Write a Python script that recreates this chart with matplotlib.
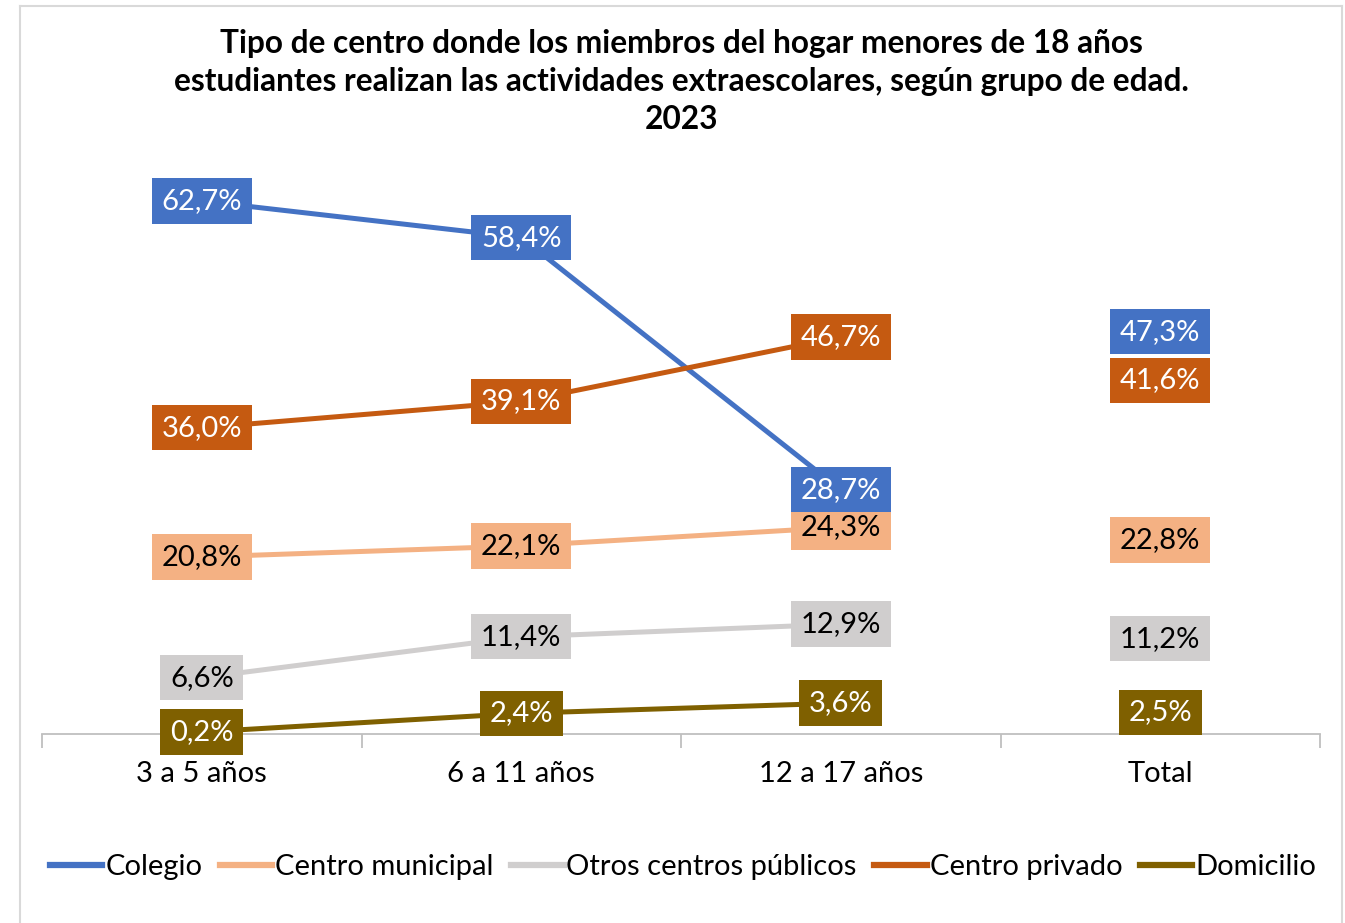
import matplotlib
matplotlib.use("Agg")
import matplotlib.pyplot as plt
from matplotlib.lines import Line2D

plt.rcParams['font.family'] = ['Lato', 'DejaVu Sans']

categories = ["3 a 5 años", "6 a 11 años", "12 a 17 años", "Total"]
series_names = ["Colegio", "Centro municipal", "Otros centros públicos", "Centro privado", "Domicilio"]
colegio = [62.7, 58.4, 28.7, 47.3]
centro_municipal = [20.8, 22.1, 24.3, 22.8]
otros_publicos = [6.6, 11.4, 12.9, 11.2]
centro_privado = [36.0, 39.1, 46.7, 41.6]
domicilio = [0.2, 2.4, 3.6, 2.5]

colors = ["#4472C4", "#F4B183", "#D0CECE", "#C55A11", "#7F6000"]
text_colors = ["white", "black", "black", "white", "white"]
values = [colegio, centro_municipal, otros_publicos, centro_privado, domicilio]

fig = plt.figure(figsize=(13.45, 9.23), dpi=100)
ax = fig.add_axes([42 / 1345, (923 - 733.7) / 923, 1278 / 1345, 594.7 / 923])

x = list(range(len(categories)))
# Draw order: later series on top
order = [2, 1, 4, 3, 0]
for i in order:
    vals = values[i]
    # lines join the age groups only; the total is shown as a label alone
    ax.plot(x[:3], vals[:3], color=colors[i], lw=3.6, solid_capstyle="butt", zorder=2 + i * 0.1)
for i in order:
    vals = values[i]
    for xi, v in zip(x, vals):
        ax.text(xi, v, f"{v:.1f}%".replace(".", ","), ha="center", va="center",
                fontsize=21, color=text_colors[i], zorder=5,
                bbox=dict(boxstyle="square,pad=0.33", fc=colors[i], ec="none"))

ax.set_xlim(-0.5, 3.5)
ax.set_ylim(0, 70)
for s in ["top", "right", "left"]:
    ax.spines[s].set_visible(False)
ax.spines["bottom"].set_color("#BFBFBF")
ax.spines["bottom"].set_linewidth(1.3)
ax.set_yticks([])
ax.set_xticks(x)
ax.set_xticklabels(categories, fontsize=21)
ax.tick_params(axis="x", length=0, pad=20)
ax.set_xticks([-0.5, 0.5, 1.5, 2.5, 3.5], minor=True)
ax.tick_params(axis="x", which="minor", length=10, color="#BFBFBF", width=1.3)

fig.text(681 / 1345, 1 - 29.5 / 923, "Tipo de centro donde los miembros del hogar menores de 18 años\n"
         "estudiantes realizan las actividades extraescolares, según grupo de edad.\n2023",
         ha="center", va="top", fontsize=22.8, fontweight="bold", linespacing=1.37,
         transform=fig.transFigure)

handles = [Line2D([0], [0], color=c, lw=4.5) for c in colors]
fig.legend(handles, series_names, loc="center", bbox_to_anchor=(683 / 1345, 1 - 867 / 923),
           ncol=5, frameon=False, fontsize=21, handlelength=1.8, handletextpad=0.1,
           columnspacing=0.6)

# outer frame
fc = "#D9D9D9"
fig.add_artist(Line2D([20 / 1345, 20 / 1345], [0, 1 - 6 / 923], color=fc, lw=1.5, transform=fig.transFigure))
fig.add_artist(Line2D([1342 / 1345, 1342 / 1345], [0, 1 - 6 / 923], color=fc, lw=1.5, transform=fig.transFigure))
fig.add_artist(Line2D([20 / 1345, 1342 / 1345], [1 - 6 / 923, 1 - 6 / 923], color=fc, lw=1.5, transform=fig.transFigure))

fig.savefig("out.png", dpi=100)
